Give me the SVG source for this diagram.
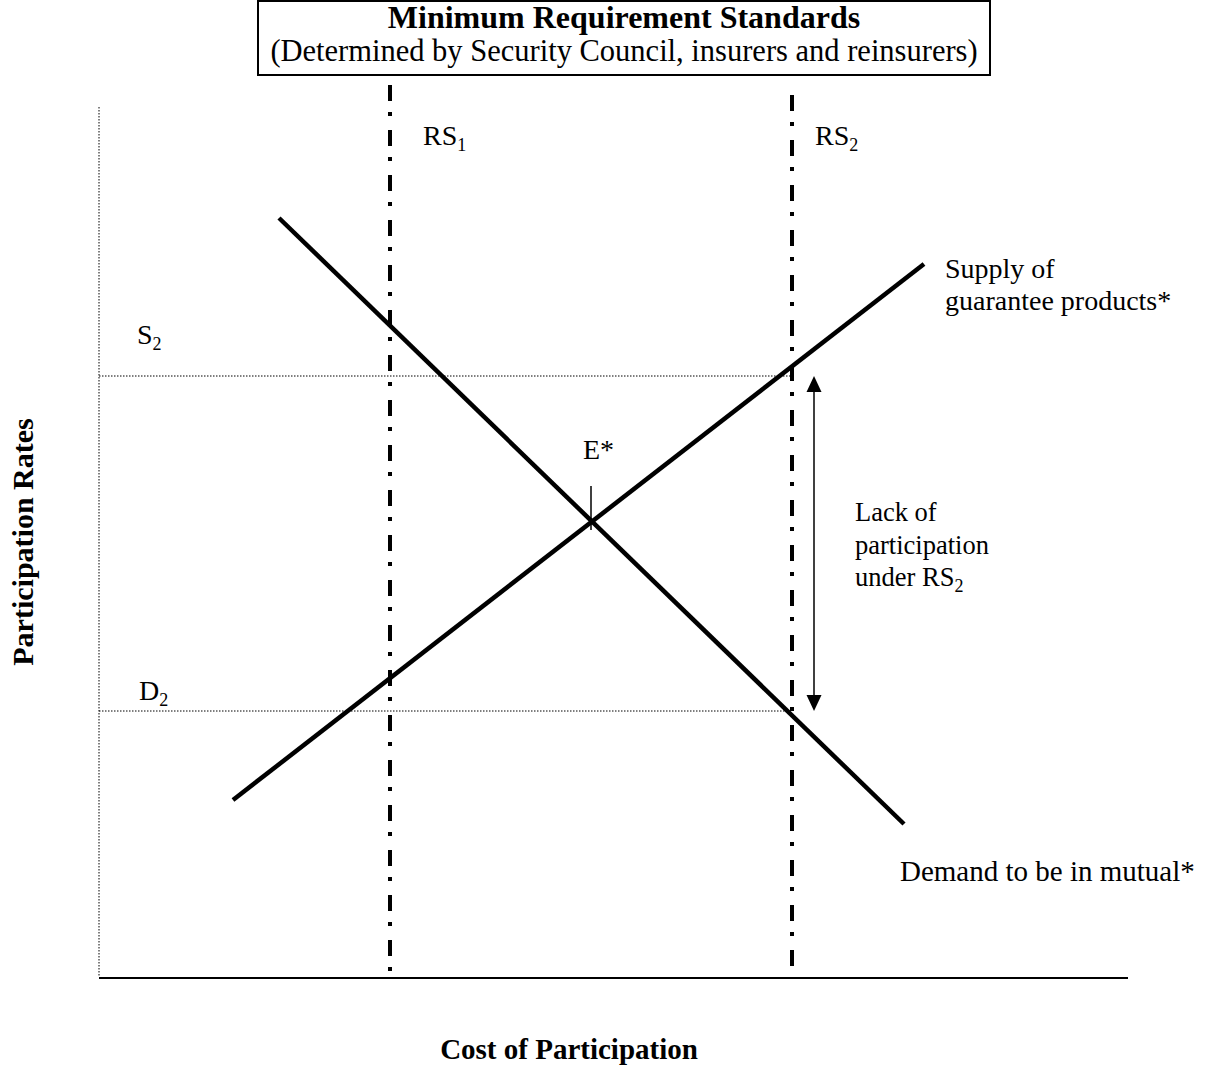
<svg xmlns="http://www.w3.org/2000/svg" width="1209" height="1072" viewBox="0 0 1209 1072">
<style>
text{font-family:"Liberation Serif","Times New Roman",serif;fill:#000}
.t{font-size:28px}
.s{font-size:26.5px}
.b{font-weight:bold}
.sub{font-size:18px}
.dot{stroke:#000;stroke-width:1;stroke-dasharray:1.5 1.5;fill:none}
.rs{stroke:#000;stroke-width:4;stroke-dasharray:16 11 4 14;fill:none}
.curve{stroke:#000;stroke-width:4.5;fill:none}
</style>
<rect width="1209" height="1072" fill="#fff"/>
<g id="title">
<rect x="258" y="1" width="732" height="74" fill="#fff" stroke="#000" stroke-width="2"/>
<text x="624" y="28" text-anchor="middle" class="b" font-size="32">Minimum Requirement Standards</text>
<text x="624" y="61" text-anchor="middle" font-size="30.5">(Determined by Security Council, insurers and reinsurers)</text>
</g>
<g id="axes">
<line x1="99" y1="107" x2="99" y2="977" class="dot"/>
<line x1="99" y1="978" x2="1128" y2="978" stroke="#000" stroke-width="2"/>
</g>
<g id="connectors">
<line x1="99" y1="376" x2="790" y2="376" class="dot"/>
<line x1="99" y1="711" x2="790" y2="711" class="dot"/>
<line x1="390" y1="85" x2="390" y2="977" class="rs"/>
<line x1="792" y1="95" x2="792" y2="977" class="rs"/>
<line x1="233" y1="800" x2="924" y2="264" class="curve"/>
<line x1="279" y1="218" x2="904" y2="824" class="curve"/>
<line x1="591" y1="486" x2="591" y2="530" stroke="#000" stroke-width="1.5"/>
<line x1="814" y1="388" x2="814" y2="698" stroke="#000" stroke-width="1.5"/>
<polygon points="814,376 806.5,392 821.5,392" fill="#000"/>
<polygon points="814,711 806.5,695 821.5,695" fill="#000"/>
</g>
<g id="labels">
<text x="423" y="145" class="t">RS<tspan class="sub" dy="6">1</tspan></text>
<text x="815" y="145" class="t">RS<tspan class="sub" dy="6">2</tspan></text>
<text x="137" y="344" class="t">S<tspan class="sub" dy="6">2</tspan></text>
<text x="139" y="700" class="t">D<tspan class="sub" dy="6">2</tspan></text>
<text x="583" y="459" class="t">E*</text>
<text x="945" y="278" class="t">Supply of</text>
<text x="945" y="310" class="t">guarantee products*</text>
<text x="855" y="521" class="s">Lack of</text>
<text x="855" y="554" class="s">participation</text>
<text x="855" y="586" class="s">under RS<tspan class="sub" dy="6">2</tspan></text>
<text x="900" y="881" font-size="29">Demand to be in mutual*</text>
<text x="569" y="1059" text-anchor="middle" class="b" font-size="29">Cost of Participation</text>
<text transform="translate(33,542) rotate(-90)" text-anchor="middle" class="b" font-size="30">Participation Rates</text>
</g>
</svg>
